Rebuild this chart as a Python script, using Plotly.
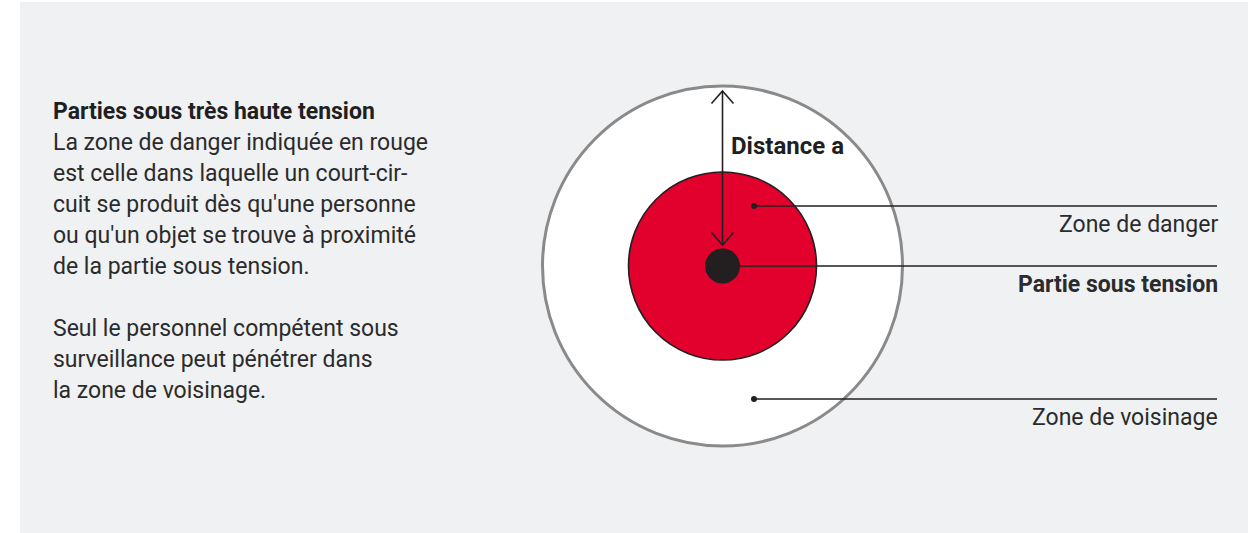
import numpy as np
import plotly.graph_objects as go

# ---- data (pixel-like drawing units) ----
center_x = 722.5
center_y = 266
zone_names = ["Zone de voisinage", "Zone de danger", "Partie sous tension"]
zone_radii = [180, 94, 17.5]
zone_fills = ["#ffffff", "#e2012d", "#231f20"]
zone_strokes = ["#8a8a8a", "#231f20", "#231f20"]
zone_stroke_w = [3, 1.6, 0]

# leader lines: start x, y, end x, label, bold
leader_start_x = [754, 740, 754]
leader_y = [206, 266, 399]
leader_end_x = [1217, 1217, 1217]
leader_dot = [True, False, True]
leader_labels = ["Zone de danger", "Partie sous tension", "Zone de voisinage"]
leader_bold = [False, True, False]

arrow_top = 91
arrow_bottom = 245
arrow_label = "Distance a"

title = "Parties sous très haute tension"
body_lines = [
    "La zone de danger indiquée en rouge",
    "est celle dans laquelle un court-cir-",
    "cuit se produit dès qu'une personne",
    "ou qu'un objet se trouve à proximité",
    "de la partie sous tension.",
    "",
    "Seul le personnel compétent sous",
    "surveillance peut pénétrer dans",
    "la zone de voisinage.",
]

FONT = "Roboto, Arial, sans-serif"
TXT = "#2b2b2b"

fig = go.Figure()

# background panel
fig.add_shape(type="rect", x0=20, x1=1248, y0=2, y1=533, xref="x", yref="y",
              fillcolor="#f0f1f3", line=dict(width=0), layer="below")

# circles
for r, fc, sc, sw in zip(zone_radii, zone_fills, zone_strokes, zone_stroke_w):
    fig.add_shape(type="circle", xref="x", yref="y", layer="below",
                  x0=center_x - r, x1=center_x + r, y0=center_y - r, y1=center_y + r,
                  fillcolor=fc, line=dict(color=sc, width=sw) if sw > 0 else dict(width=0))

# leader lines
for sx, y, ex, dot in zip(leader_start_x, leader_y, leader_end_x, leader_dot):
    fig.add_trace(go.Scatter(x=[sx, ex], y=[y, y], mode="lines",
                             line=dict(color="#231f20", width=1.6),
                             hoverinfo="skip", showlegend=False))
    if dot:
        fig.add_trace(go.Scatter(x=[sx], y=[y], mode="markers",
                                 marker=dict(color="#231f20", size=6),
                                 hoverinfo="skip", showlegend=False))

# leader labels
label_offset = 18
for y, ex, lab, b in zip(leader_y, leader_end_x, leader_labels, leader_bold):
    fig.add_annotation(x=ex + 3, y=y + label_offset, text=f"<b>{lab}</b>" if b else lab,
                       xref="x", yref="y", xanchor="right", yanchor="middle",
                       showarrow=False, font=dict(family=FONT, size=23, color=TXT))

# double arrow
ah_w, ah_h = 11, 12.5
fig.add_trace(go.Scatter(x=[center_x, center_x], y=[arrow_top, arrow_bottom], mode="lines",
                         line=dict(color="#231f20", width=1.6),
                         hoverinfo="skip", showlegend=False))
fig.add_trace(go.Scatter(
    x=[center_x - ah_w, center_x, center_x + ah_w, None, center_x - ah_w, center_x, center_x + ah_w],
    y=[arrow_top + ah_h, arrow_top, arrow_top + ah_h, None, arrow_bottom - ah_h, arrow_bottom, arrow_bottom - ah_h],
    mode="lines", line=dict(color="#231f20", width=1.6),
    hoverinfo="skip", showlegend=False))
fig.add_annotation(x=729, y=146, text=f"<b>{arrow_label}</b>", xref="x", yref="y",
                   xanchor="left", yanchor="middle", showarrow=False,
                   font=dict(family=FONT, size=24, color="#1f1f1f"))

# left text block
text_x = 51
line_y0 = 111
line_step = 31
fig.add_annotation(x=text_x, y=line_y0, text=f"<b>{title}</b>", xref="x", yref="y",
                   xanchor="left", yanchor="middle", showarrow=False,
                   font=dict(family=FONT, size=23, color="#1f1f1f"))
for i, ln in enumerate(body_lines):
    if not ln:
        continue
    fig.add_annotation(x=text_x, y=line_y0 + line_step * (i + 1), text=ln, xref="x", yref="y",
                       xanchor="left", yanchor="middle", showarrow=False,
                       font=dict(family=FONT, size=23, color=TXT))

fig.update_xaxes(range=[0, 1259], visible=False, fixedrange=True)
fig.update_yaxes(range=[533, 0], visible=False, fixedrange=True)
fig.update_layout(width=1259, height=533, margin=dict(l=0, r=0, t=0, b=0),
                  paper_bgcolor="#ffffff", plot_bgcolor="rgba(0,0,0,0)",
                  showlegend=False)

fig.write_html("out.html", config={"displayModeBar": False},
               post_script="document.body.style.margin='0';document.body.style.overflow='hidden';")
